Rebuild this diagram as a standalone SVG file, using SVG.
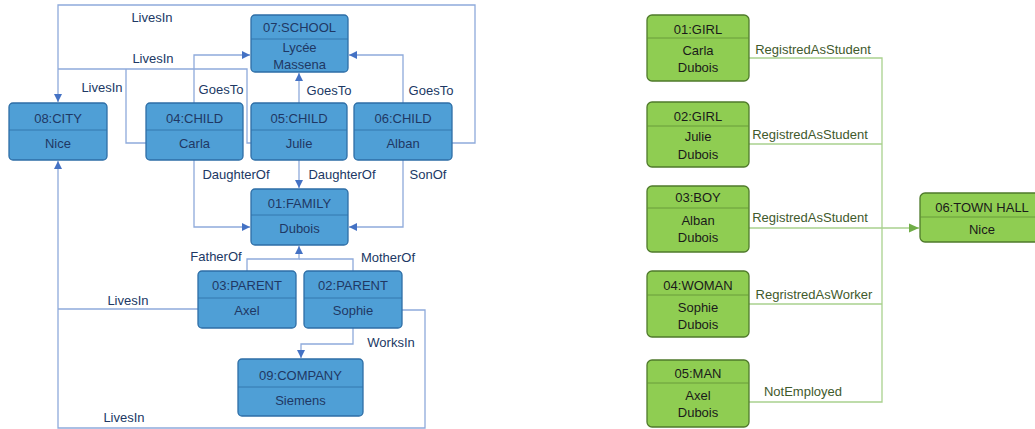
<svg xmlns="http://www.w3.org/2000/svg" width="1035" height="429" viewBox="0 0 1035 429">
<style>
.bn rect{fill:#4f9fd6;stroke:#2e6ea6;stroke-width:1.3}
.bn line{stroke:#2e6ea6;stroke-width:0.8}
.gn rect{fill:#8fcd52;stroke:#4f7a2b;stroke-width:1.3}
.gn line{stroke:#5f8f35;stroke-width:0.8}
text{font-family:"Liberation Sans",Arial,sans-serif;font-size:13px;text-anchor:middle}
.bn text{fill:#1f3864}
.gn text{fill:#1a1a1a}
.bc{fill:none;stroke:#8eaadb;stroke-width:1.3}
.gc{fill:none;stroke:#a9d18e;stroke-width:1.3}
.bl{fill:#203864}
.gl{fill:#3f5a2c}
</style>
<defs>
<marker id="ab" markerUnits="userSpaceOnUse" markerWidth="9" markerHeight="9" refX="8" refY="4.5" orient="auto"><path d="M0,0.5 L8,4.5 L0,8.5 Z" fill="#4472c4"/></marker>
<marker id="ag" markerUnits="userSpaceOnUse" markerWidth="11" markerHeight="10" refX="10" refY="5" orient="auto"><path d="M0,0.5 L10,5 L0,9.5 Z" fill="#70ad47"/></marker>
</defs>
<rect width="1035" height="429" fill="#ffffff"/>
<g id="connectors">
<path class="bc" d="M452,143 H475 V5 H58 V102" marker-end="url(#ab)"/>
<path class="bc" d="M251,143 H247 V69 H58"/>
<path class="bc" d="M146,143 H126 V69"/>
<path class="bc" d="M194,103 V55 H250" marker-end="url(#ab)"/>
<path class="bc" d="M299,103 V73" marker-end="url(#ab)"/>
<path class="bc" d="M403,103 V55 H349" marker-end="url(#ab)"/>
<path class="bc" d="M194,160 V227 H250" marker-end="url(#ab)"/>
<path class="bc" d="M299,160 V188" marker-end="url(#ab)"/>
<path class="bc" d="M403,160 V227 H349" marker-end="url(#ab)"/>
<path class="bc" d="M247,271 V259 H299 V246" marker-end="url(#ab)"/>
<path class="bc" d="M353,271 V259 H299"/>
<path class="bc" d="M353,328 V344 H301 V358" marker-end="url(#ab)"/>
<path class="bc" d="M402,310 H425 V428 H58 V161" marker-end="url(#ab)"/>
<path class="bc" d="M198,309 H58"/>
<path class="gc" d="M749,58 H882 V402 H749"/>
<path class="gc" d="M749,144 H882"/>
<path class="gc" d="M749,304 H882"/>
<path class="gc" d="M749,228 H919" marker-end="url(#ag)"/>
<text class="bl" x="152" y="22">LivesIn</text>
<text class="bl" x="153" y="63">LivesIn</text>
<text class="bl" x="102" y="92">LivesIn</text>
<text class="bl" x="221" y="94">GoesTo</text>
<text class="bl" x="329" y="95">GoesTo</text>
<text class="bl" x="431" y="95">GoesTo</text>
<text class="bl" x="236" y="179">DaughterOf</text>
<text class="bl" x="342" y="179">DaughterOf</text>
<text class="bl" x="428" y="179">SonOf</text>
<text class="bl" x="216" y="261">FatherOf</text>
<text class="bl" x="388" y="262">MotherOf</text>
<text class="bl" x="128" y="305">LivesIn</text>
<text class="bl" x="391" y="347">WorksIn</text>
<text class="bl" x="124" y="422">LivesIn</text>
<text class="gl" x="813" y="54">RegistredAsStudent</text>
<text class="gl" x="810" y="139">RegistredAsStudent</text>
<text class="gl" x="810" y="222">RegistredAsStudent</text>
<text class="gl" x="814" y="299">RegristredAsWorker</text>
<text class="gl" x="803" y="396">NotEmployed</text>
</g>
<g id="school" class="bn"><rect x="251" y="15" width="97" height="57" rx="4"/><line x1="251" y1="39" x2="348" y2="39"/><text x="299.5" y="32">07:SCHOOL</text><text x="299.5" y="52">Lycée</text><text x="299.5" y="69">Massena</text></g>
<g id="city" class="bn"><rect x="9" y="103" width="98" height="57" rx="4"/><line x1="9" y1="130" x2="107" y2="130"/><text x="58" y="122.5">08:CITY</text><text x="58" y="147.5">Nice</text></g>
<g id="child04" class="bn"><rect x="146" y="103" width="97" height="57" rx="4"/><line x1="146" y1="130" x2="243" y2="130"/><text x="194.5" y="122.5">04:CHILD</text><text x="194.5" y="147.5">Carla</text></g>
<g id="child05" class="bn"><rect x="251" y="103" width="96" height="57" rx="4"/><line x1="251" y1="130" x2="347" y2="130"/><text x="299" y="122.5">05:CHILD</text><text x="299" y="147.5">Julie</text></g>
<g id="child06" class="bn"><rect x="354" y="103" width="98" height="57" rx="4"/><line x1="354" y1="130" x2="452" y2="130"/><text x="403" y="122.5">06:CHILD</text><text x="403" y="147.5">Alban</text></g>
<g id="family" class="bn"><rect x="251" y="189" width="97" height="56" rx="4"/><line x1="251" y1="215" x2="348" y2="215"/><text x="299.5" y="207.5">01:FAMILY</text><text x="299.5" y="232.5">Dubois</text></g>
<g id="parent03" class="bn"><rect x="198" y="271" width="98" height="57" rx="4"/><line x1="198" y1="298" x2="296" y2="298"/><text x="247" y="289.5">03:PARENT</text><text x="247" y="314.5">Axel</text></g>
<g id="parent02" class="bn"><rect x="304" y="271" width="98" height="57" rx="4"/><line x1="304" y1="298" x2="402" y2="298"/><text x="353" y="289.5">02:PARENT</text><text x="353" y="314.5">Sophie</text></g>
<g id="company" class="bn"><rect x="238" y="359" width="125" height="57" rx="4"/><line x1="238" y1="387" x2="363" y2="387"/><text x="300.5" y="379.5">09:COMPANY</text><text x="300.5" y="404.5">Siemens</text></g>
<g id="girl01" class="gn"><rect x="647" y="15" width="102" height="66" rx="5"/><line x1="647" y1="38" x2="749" y2="38"/><text x="698" y="33.5">01:GIRL</text><text x="698" y="54.5">Carla</text><text x="698" y="71.5">Dubois</text></g>
<g id="girl02" class="gn"><rect x="647" y="102" width="102" height="65" rx="5"/><line x1="647" y1="126" x2="749" y2="126"/><text x="698" y="120.5">02:GIRL</text><text x="698" y="140.5">Julie</text><text x="698" y="158.5">Dubois</text></g>
<g id="boy03" class="gn"><rect x="647" y="186" width="102" height="66" rx="5"/><line x1="647" y1="208" x2="749" y2="208"/><text x="698" y="201.5">03:BOY</text><text x="698" y="224.5">Alban</text><text x="698" y="241.5">Dubois</text></g>
<g id="woman04" class="gn"><rect x="647" y="271" width="102" height="66" rx="5"/><line x1="647" y1="295" x2="749" y2="295"/><text x="698" y="289.5">04:WOMAN</text><text x="698" y="311.5">Sophie</text><text x="698" y="328.5">Dubois</text></g>
<g id="man05" class="gn"><rect x="647" y="360" width="102" height="67" rx="5"/><line x1="647" y1="383" x2="749" y2="383"/><text x="698" y="377.5">05:MAN</text><text x="698" y="399.5">Axel</text><text x="698" y="416.5">Dubois</text></g>
<g id="townhall" class="gn"><rect x="920" y="193" width="124" height="49" rx="5"/><line x1="920" y1="217" x2="1044" y2="217"/><text x="982" y="211.5">06:TOWN HALL</text><text x="982" y="233.5">Nice</text></g>
</svg>
